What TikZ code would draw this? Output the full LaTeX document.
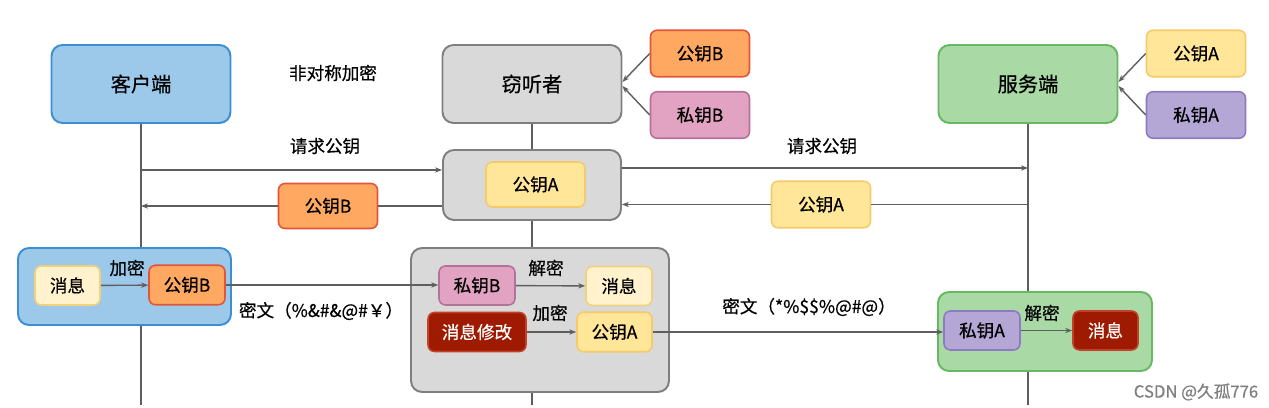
\documentclass[tikz,border=0pt]{standalone}
\usepackage{fontspec}
\setmainfont{Noto Sans CJK SC}[FakeBold=0.6]
\usetikzlibrary{arrows.meta}

\definecolor{cliFill}{HTML}{9CC8EA}
\definecolor{cliLine}{HTML}{3C8ED3}
\definecolor{spyFill}{HTML}{D9D9D9}
\definecolor{spyLine}{HTML}{7F7F7F}
\definecolor{srvFill}{HTML}{A9D9A5}
\definecolor{srvLine}{HTML}{68B763}
\definecolor{pubBFill}{HTML}{FFA862}
\definecolor{pubBLine}{HTML}{E2553A}
\definecolor{prvBFill}{HTML}{E2A3C2}
\definecolor{prvBLine}{HTML}{B57297}
\definecolor{pubAFill}{HTML}{FFE699}
\definecolor{pubALine}{HTML}{F4CA6A}
\definecolor{prvAFill}{HTML}{B4A7D6}
\definecolor{prvALine}{HTML}{8D7BC2}
\definecolor{msgFill}{HTML}{FFF2CC}
\definecolor{msgLine}{HTML}{F1D17C}
\definecolor{redFill}{HTML}{9E1A00}
\definecolor{redLine}{HTML}{C2412A}
\definecolor{wire}{HTML}{5E5E5E}

\tikzset{
  actor/.style={draw, line width=1.1pt, rounded corners=0.22cm, minimum width=3.58cm,
    minimum height=1.56cm, inner sep=0pt, font=\fontsize{11.5}{13}\selectfont},
  keybox/.style={draw, line width=0.9pt, rounded corners=0.13cm, minimum width=1.98cm,
    minimum height=0.93cm, inner sep=0pt, font=\fontsize{10}{12}\selectfont},
  smallkey/.style={keybox, minimum width=1.52cm, minimum height=0.79cm},
  group/.style={draw, line width=1.1pt, rounded corners=0.22cm, inner sep=0pt},
  lbl/.style={inner sep=1pt, font=\fontsize{10}{12}\selectfont},
  arr/.style={draw=wire, line width=0.8pt, -{Stealth[length=4pt,width=3pt]}},
  life/.style={draw=wire, line width=0.8pt},
}

\begin{document}
\begin{tikzpicture}[x=0.02cm, y=-0.02cm]
\useasboundingbox (0,0) rectangle (1269,408);

% actors
\node[actor, fill=cliFill, draw=cliLine] (client) at (141,84) {客户端};
\node[actor, fill=spyFill, draw=spyLine] (spy) at (532,84) {窃听者};
\node[actor, fill=srvFill, draw=srvLine] (server) at (1028,84) {服务端};
\node[lbl] (asym) at (333,73) {非对称加密};

\node[keybox, fill=pubBFill, draw=pubBLine] (spyPub) at (700,53.5) {公钥B};
\node[keybox, fill=prvBFill, draw=prvBLine] (spyPrv) at (700,115) {私钥B};
\node[keybox, fill=pubAFill, draw=pubALine] (srvPub) at (1196,53.5) {公钥A};
\node[keybox, fill=prvAFill, draw=prvALine] (srvPrv) at (1196,115) {私钥A};

\draw[arr] (spyPub.west) -- ([yshift=1.2pt]spy.east);
\draw[arr] (spyPrv.west) -- ([yshift=-1.2pt]spy.east);
\draw[arr] (srvPub.west) -- ([yshift=1.2pt]server.east);
\draw[arr] (srvPrv.west) -- ([yshift=-1.2pt]server.east);

% key exchange
\node[group, fill=spyFill, draw=spyLine, minimum width=3.56cm, minimum height=1.4cm] (spyMid) at (532,185) {};
\node[keybox, fill=pubAFill, draw=pubALine, minimum height=0.9cm] (midPub) at (535.5,184.5) {公钥A};

\coordinate (reqC) at (141,170);
\coordinate (reqS) at (1028,168);
\node[lbl] (reqL) at (325,146) {请求公钥};
\node[lbl] (reqR) at (822,146) {请求公钥};
\draw[arr] (reqC) -- (reqC -| spyMid.west);
\draw[arr] (reqS -| spyMid.east) -- (reqS);

\node[keybox, fill=pubBFill, draw=pubBLine, minimum height=0.9cm] (fakePub) at (328,206) {公钥B};
\node[keybox, fill=pubAFill, draw=pubALine] (realPub) at (821,204.5) {公钥A};
\draw[life] (fakePub -| spyMid.west) -- (fakePub.east);
\draw[arr] (fakePub.west) -- (fakePub -| client);
\draw[life] (realPub -| server) -- (realPub.east);
\draw[arr] (realPub.west) -- (realPub -| spyMid.east);

% client side
\node[group, fill=cliFill, draw=cliLine, minimum width=4.26cm, minimum height=1.54cm] (cliBox) at (124.5,286.5) {};
\node[smallkey, fill=msgFill, draw=msgLine, minimum width=1.3cm, minimum height=0.78cm] (cliMsg) at (67.5,285.5) {消息};
\node[smallkey, fill=pubBFill, draw=pubBLine] (cliPub) at (187,285) {公钥B};
\draw[arr] (cliMsg) -- (cliPub);
\node[lbl] (cliEnc) at (127,268) {加密};

% eavesdropper side
\node[group, fill=spyFill, draw=spyLine, minimum width=5.16cm, minimum height=2.88cm] (spyBox) at (540,320) {};
\node[smallkey, fill=prvBFill, draw=prvBLine, minimum height=0.78cm] (spyKey) at (477,285.5) {私钥B};
\node[smallkey, fill=msgFill, draw=msgLine, minimum width=1.32cm, minimum height=0.78cm] (spyMsg) at (619,286) {消息};
\node[smallkey, fill=redFill, draw=redLine, text=white, minimum width=1.96cm, minimum height=0.78cm] (spyEdit) at (477,332) {消息修改};
\node[smallkey, fill=pubAFill, draw=pubALine, minimum width=1.5cm] (spyPubA) at (614.5,332) {公钥A};
\draw[arr] (spyKey) -- (spyMsg);
\draw[arr] (spyEdit) -- (spyPubA);
\node[lbl] (spyDec) at (546,268) {解密};
\node[lbl] (spyEnc) at (550,313) {加密};

% server side
\node[group, fill=srvFill, draw=srvLine, minimum width=4.28cm, minimum height=1.58cm] (srvBox) at (1045,331.5) {};
\node[smallkey, fill=prvAFill, draw=prvALine, minimum height=0.78cm] (srvKey) at (982,330.5) {私钥A};
\node[smallkey, fill=redFill, draw=redLine, text=white, minimum width=1.3cm, minimum height=0.78cm] (srvMsg) at (1105.5,330.5) {消息};
\draw[arr] (srvKey) -- (srvMsg);
\node[lbl] (srvDec) at (1042,313) {解密};

% ciphertexts
\draw[arr] (cliPub.east) -- (cliPub -| spyKey.west);
\node[lbl] (cipherB) at (321,311) {密文（\%\&\#\&@\#￥）};
\draw[arr] (spyPubA.east) -- (spyPubA -| srvKey.west);
\node[lbl] (cipherA) at (809,307) {密文（*\%\$\$\%@\#@）};

% lifelines
\coordinate (cliEnd) at (141,405);
\coordinate (spyEnd) at (532,405);
\coordinate (srvEnd) at (1028,405);
\draw[life] (client) -- (client |- cliBox.north);
\draw[life] (client |- cliBox.south) -- (cliEnd);
\draw[life] (spy) -- (spyMid);
\draw[life] (spyMid.south) -- (spyMid.south |- spyBox.north);
\draw[life] (spy |- spyBox.south) -- (spyEnd);
\draw[life] (server) -- (server |- srvBox.north);
\draw[life] (server |- srvBox.south) -- (srvEnd);

\node[lbl, text=gray, font=\fontsize{9.5}{11}\selectfont] (mark) at (1196,392) {CSDN @久孤776};
\end{tikzpicture}
\end{document}
